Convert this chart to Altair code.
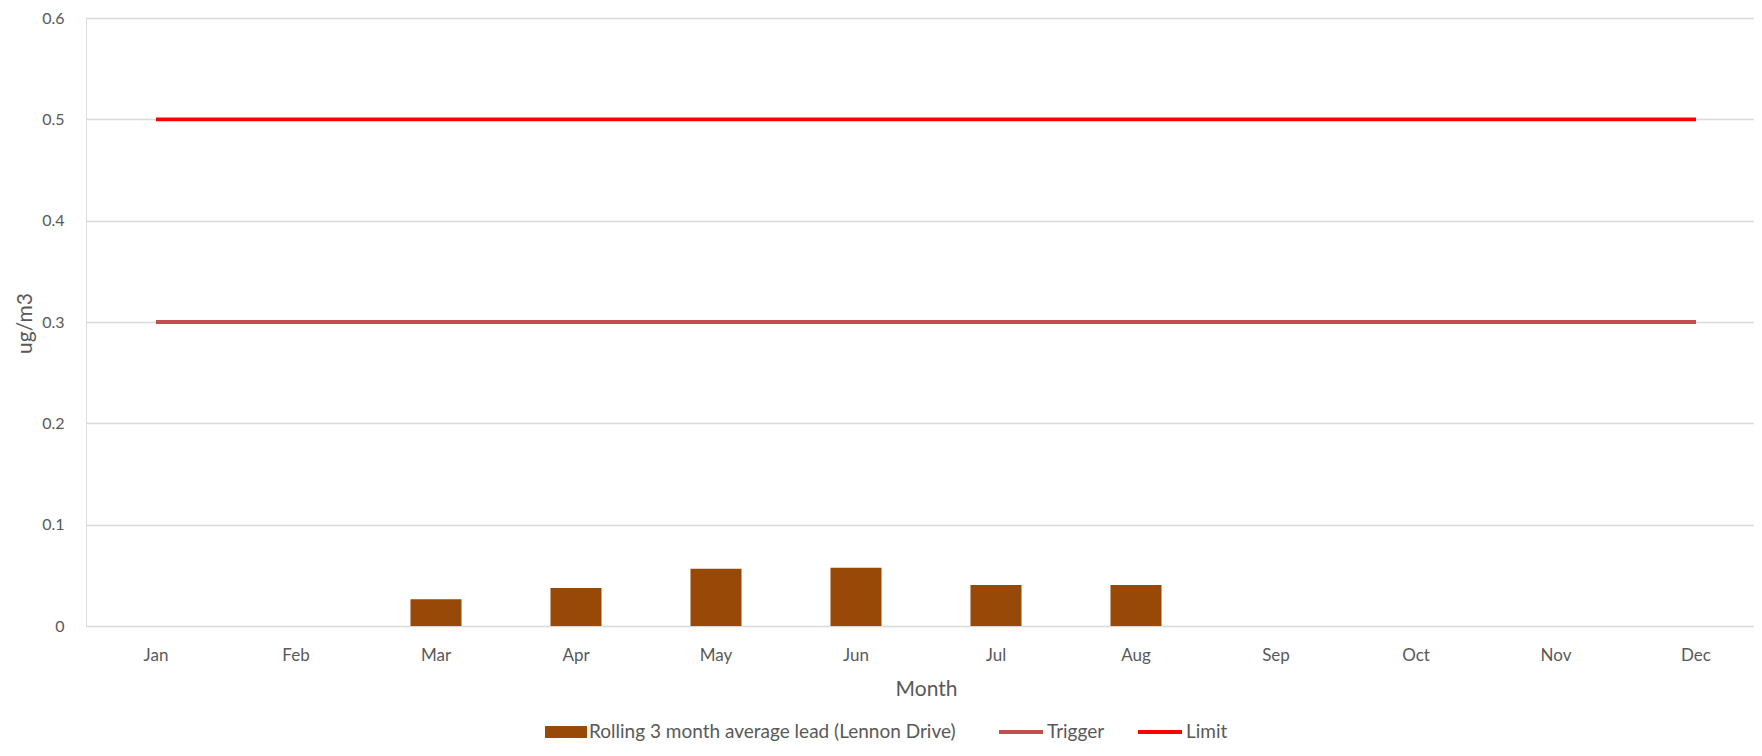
import altair as alt
import pandas as pd

months = ["Jan", "Feb", "Mar", "Apr", "May", "Jun", "Jul", "Aug", "Sep", "Oct", "Nov", "Dec"]
bar_months = ["Mar", "Apr", "May", "Jun", "Jul", "Aug"]
bar_values = [0.0265, 0.0374, 0.0565, 0.0575, 0.0404, 0.0404]
bar_series = "Rolling 3 month average lead (Lennon Drive)"
trigger_values = [0.3] * 12
limit_values = [0.5] * 12
y_ticks = [0, 0.1, 0.2, 0.3, 0.4, 0.5, 0.6]

FONT = "Lato"
TXT = "#595959"

bars_df = pd.DataFrame({"Month": bar_months, "value": bar_values, "series": bar_series})
lines_df = pd.DataFrame({
    "Month": months + months,
    "value": trigger_values + limit_values,
    "series": ["Trigger"] * 12 + ["Limit"] * 12,
})

x_enc = alt.X(
    "Month:N",
    sort=months,
    scale=alt.Scale(domain=months, range=[0, 1680], paddingInner=0, paddingOuter=0),
    axis=alt.Axis(
        title="Month", labelAngle=0, labelFont=FONT, labelFontSize=17, labelColor=TXT,
        labelBaseline="alphabetic", labelPadding=34, domain=False, ticks=False, grid=False,
        titleFont=FONT, titleFontSize=21, titleColor=TXT, titleFontWeight="normal",
        titleX=840, titleY=63, titleBaseline="middle", titleAlign="center",
    ),
)
y_enc = alt.Y(
    "value:Q",
    scale=alt.Scale(domain=[0, 0.6], nice=False, zero=True),
    axis=alt.Axis(
        title="ug/m3", values=y_ticks, labelExpr="datum.value == 0 ? '0' : format(datum.value, '.1f')",
        labelFont=FONT, labelFontSize=16, labelColor=TXT, labelPadding=22,
        domain=False, ticks=False, grid=True, gridColor="#D9D9D9", gridWidth=1.3,
        titleFont=FONT, titleFontSize=21, titleColor=TXT, titleFontWeight="normal",
        titleX=-61, titleY=305, titleBaseline="middle", titleAlign="center",
    ),
)

bars = alt.Chart(bars_df).mark_bar(size=51).encode(
    x=x_enc,
    y=y_enc,
    color=alt.Color(
        "series:N",
        scale=alt.Scale(domain=[bar_series], range=["#984807"]),
        legend=alt.Legend(
            title=None, orient="none", legendX=459, legendY=693, padding=0,
            symbolType="M-1,-0.286H1V0.286H-1Z", symbolSize=1764, symbolStrokeWidth=0,
            labelFont=FONT, labelFontSize=19, labelColor=TXT, labelOffset=2, labelLimit=0,
        ),
    ),
)

lines = alt.Chart(lines_df).mark_line(strokeWidth=3.8).encode(
    x=alt.X("Month:N", sort=months),
    y=alt.Y("value:Q"),
    color=alt.Color(
        "series:N",
        scale=alt.Scale(domain=["Trigger", "Limit"], range=["#C0504D", "#FF0000"]),
        legend=alt.Legend(
            title=None, orient="none", direction="horizontal", legendX=911, legendY=690, padding=0,
            symbolType="M-1,0H1", symbolSize=1936, symbolStrokeWidth=4,
            labelFont=FONT, labelFontSize=19, labelColor=TXT, labelOffset=2, columnPadding=25,
            labelLimit=0,
        ),
    ),
)

chart = (
    alt.layer(bars, lines)
    .resolve_scale(color="independent")
    .properties(
        width=1668, height=608,
        autosize=alt.AutoSizeParams(type="none"),
        padding={"left": 78, "top": 10, "right": 0, "bottom": 116},
    )
    .configure_view(stroke=None)
    .configure(background="white")
)

chart.save("out.html", embed_options={"renderer": "svg", "actions": False})
